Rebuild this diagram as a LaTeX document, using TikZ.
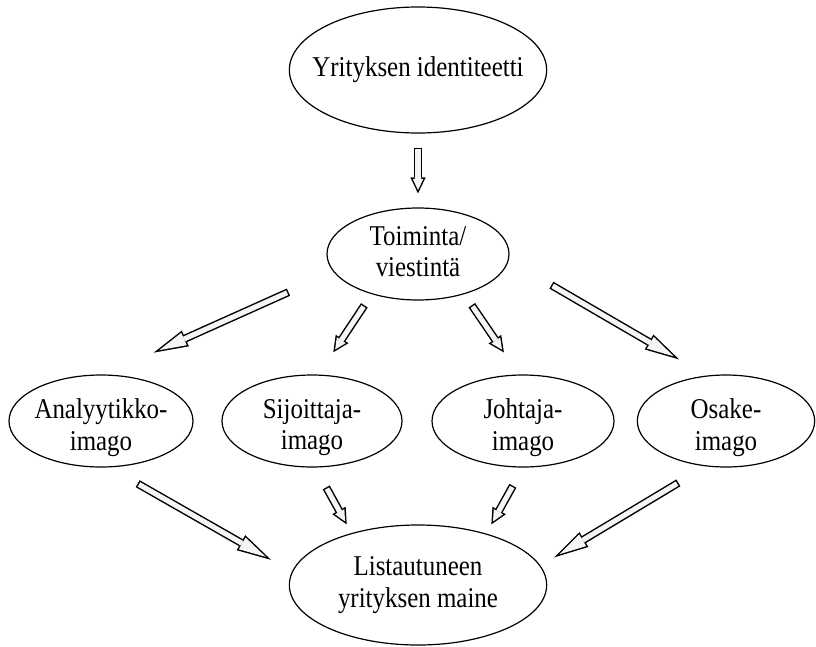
\documentclass[tikz,border=0pt]{standalone}
\usepackage{fontspec}
\setmainfont{Liberation Serif}
\usetikzlibrary{arrows.meta,calc,shapes.geometric}

\tikzset{
  bubble/.style={draw, ellipse, line width=0.9pt, inner sep=0pt},
  txt/.style={align=center, inner sep=0pt, font=\fontsize{21.5}{23.5}\selectfont,
    xscale=0.87, transform shape},
  blockarrow/.style={line width=6pt, -{Triangle[length=12pt,width=11.5pt,line width=0pt]},
    postaction={draw=gray!8, line width=3.8pt, -{Triangle[length=8.35pt,width=8pt,line width=0pt]},
      shorten <=1.1pt, shorten >=2.55pt}},
  longarrow/.style={line width=6pt, -{Triangle[length=26pt,width=13pt,line width=0pt]},
    postaction={draw=gray!8, line width=3.8pt, -{Triangle[length=20.36pt,width=10.18pt,line width=0pt]},
      shorten <=1.1pt, shorten >=4.54pt}}
}

\begin{document}
\begin{tikzpicture}[x=0.75pt,y=-0.75pt]
  \useasboundingbox (0,0) rectangle (816,646);
  % ellipses
  \node[bubble, minimum width=193pt, minimum height=94.5pt] (ident) at (418,70) {};
  \node[bubble, minimum width=136.5pt, minimum height=69pt] (toim) at (418,254) {};
  \node[bubble, minimum width=138pt, minimum height=69pt] (ana) at (101,421) {};
  \node[bubble, minimum width=135pt, minimum height=69pt] (sij) at (312,421) {};
  \node[bubble, minimum width=136.5pt, minimum height=69pt] (joh) at (523,421) {};
  \node[bubble, minimum width=133pt, minimum height=69pt] (osa) at (726,421) {};
  \node[bubble, minimum width=193pt, minimum height=90pt] (maine) at (418,585) {};
  % texts
  \node[txt] (ident-t) at (ident) {Yrityksen identiteetti};
  \node[txt] (toim-t) at ([yshift=2pt]toim.center) {Toiminta/\\viestintä};
  \node[txt] (ana-t) at ([yshift=-5pt]ana.center) {Analyytikko-\\imago};
  \node[txt] (sij-t) at ([yshift=-5pt]sij.center) {Sijoittaja-\\imago};
  \node[txt] (joh-t) at ([yshift=-5pt]joh.center) {Johtaja-\\imago};
  \node[txt] (osa-t) at ([yshift=-5pt]osa.center) {Osake-\\imago};
  \node[txt] (maine-t) at (maine) {Listautuneen\\yrityksen maine};
  % arrows
  \draw[blockarrow] ($(ident.south)!10.5pt!(toim.north)$) -- ($(toim.north)!10.5pt!(ident.south)$);
  \draw[longarrow] ($(toim.192)!37pt!(ana.85)$) -- ($(ana.85)!40pt!(toim.192)$);
  \draw[blockarrow] ($(toim.221)!10pt!(sij.82)$) -- ($(sij.82)!20pt!(toim.221)$);
  \draw[blockarrow] ($(toim.319)!10pt!(joh.95)$) -- ($(joh.95)!20pt!(toim.319)$);
  \draw[longarrow] ($(toim.356)!37pt!(osa.113)$) -- ($(osa.113)!24pt!(toim.356)$);
  \draw[longarrow] ($(ana.280)!24.6pt!(maine.174)$) -- ($(maine.174)!18pt!(ana.280)$);
  \draw[blockarrow] ($(sij.274)!17pt!(maine.142)$) -- ($(maine.142)!7.4pt!(sij.274)$);
  \draw[blockarrow] ($(joh.270)!15.6pt!(maine.37)$) -- ($(maine.37)!7.8pt!(joh.270)$);
  \draw[longarrow] ($(osa.246)!24pt!(maine.9)$) -- ($(maine.9)!12pt!(osa.246)$);
\end{tikzpicture}
\end{document}
